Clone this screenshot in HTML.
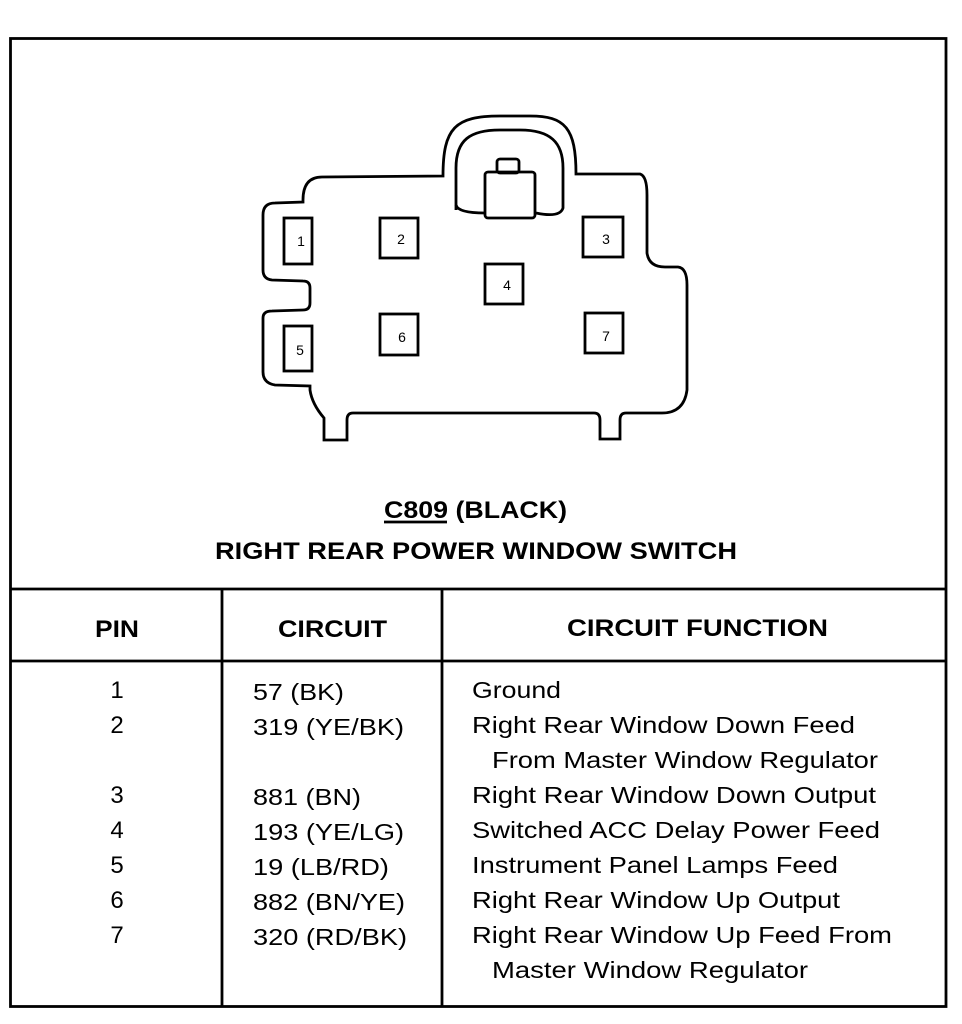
<!DOCTYPE html>
<html><head><meta charset="utf-8"><style>
html,body{margin:0;padding:0;background:#fff;}
svg{display:block;}
text{font-family:"Liberation Sans",Arial,sans-serif;fill:#000;}
.b{font-weight:bold;}
</style></head><body>
<svg width="962" height="1024" viewBox="0 0 962 1024" xmlns="http://www.w3.org/2000/svg">
<g fill="none" stroke="#000" stroke-width="2.8">
<rect x="10.5" y="38.5" width="935.5" height="968"/>
<line x1="10" y1="589" x2="946" y2="589"/>
<line x1="10" y1="661" x2="946" y2="661"/>
<line x1="222" y1="589" x2="222" y2="1007"/>
<line x1="442" y1="589" x2="442" y2="1007"/>
<path d="M303,200 Q303,177 322,177 L443,176 C443,128 455,116 500,116 L530,116 C565,116 576,128 576,174 L640,174 Q647,176 647,195 L647,253 Q649,267 665,267 L678,267 Q687,268 687,285 L687,390 Q684,413 662,413 L626,413 Q620,413 620,420 L620,439 L600,439 L600,420 Q600,413 594,413 L353,413 Q347,413 347,420 L347,440 L324,440 L324,418 Q312,404 310,390 L310,386 L275,385 Q263,383 263,372 L263,318 Q263,311 272,311 L303,310 Q310,310 310,303 L310,288 Q310,281 303,281 L272,280 Q263,279 263,270 L263,215 Q263,203 275,203 L303,202 Z"/>
<path d="M456,210 L456,168 C456,140 470,130 500,130 L520,130 C550,130 563,142 563,168 L563,208 Q560,218 536,213"/>
<path d="M456,205 Q458,213 485,213"/>
<rect x="485" y="172" width="50" height="46" rx="3"/>
<rect x="497" y="159" width="22" height="14" rx="3"/>
<rect x="284" y="218" width="28" height="46"/>
<rect x="380" y="218" width="38" height="40"/>
<rect x="583" y="217" width="40" height="40"/>
<rect x="485" y="264" width="38" height="40"/>
<rect x="284" y="326" width="28" height="45"/>
<rect x="380" y="314" width="38" height="41"/>
<rect x="585" y="313" width="38" height="40"/>
<line x1="384" y1="522" x2="447" y2="522"/>
</g>
<g font-size="14" text-anchor="middle">
<text x="301" y="246">1</text><text x="401" y="244">2</text><text x="606" y="244">3</text>
<text x="507" y="290">4</text><text x="300" y="355">5</text><text x="402" y="342">6</text><text x="606" y="341">7</text>
</g>
<text class="b" x="384" y="518" font-size="24" textLength="183" lengthAdjust="spacingAndGlyphs">C809 (BLACK)</text>
<text class="b" x="215" y="559" font-size="24" textLength="522" lengthAdjust="spacingAndGlyphs">RIGHT REAR POWER WINDOW SWITCH</text>
<text class="b" x="95" y="637" font-size="24" textLength="44" lengthAdjust="spacingAndGlyphs">PIN</text>
<text class="b" x="278" y="637" font-size="24" textLength="109" lengthAdjust="spacingAndGlyphs">CIRCUIT</text>
<text class="b" x="567" y="636" font-size="24" textLength="261" lengthAdjust="spacingAndGlyphs">CIRCUIT FUNCTION</text>
<g font-size="23">
<g text-anchor="middle" font-size="24">
<text x="117" y="698">1</text><text x="117" y="733">2</text><text x="117" y="803">3</text><text x="117" y="838">4</text><text x="117" y="873">5</text><text x="117" y="908">6</text><text x="117" y="943">7</text>
</g>
<text x="253" y="700" textLength="91" lengthAdjust="spacingAndGlyphs">57 (BK)</text>
<text x="253" y="735" textLength="151" lengthAdjust="spacingAndGlyphs">319 (YE/BK)</text>
<text x="253" y="805" textLength="108" lengthAdjust="spacingAndGlyphs">881 (BN)</text>
<text x="253" y="840" textLength="151" lengthAdjust="spacingAndGlyphs">193 (YE/LG)</text>
<text x="253" y="875" textLength="136" lengthAdjust="spacingAndGlyphs">19 (LB/RD)</text>
<text x="253" y="910" textLength="152" lengthAdjust="spacingAndGlyphs">882 (BN/YE)</text>
<text x="253" y="945" textLength="154" lengthAdjust="spacingAndGlyphs">320 (RD/BK)</text>
<text x="472" y="698" textLength="89" lengthAdjust="spacingAndGlyphs">Ground</text>
<text x="472" y="733" textLength="383" lengthAdjust="spacingAndGlyphs">Right Rear Window Down Feed</text>
<text x="492" y="768" textLength="386" lengthAdjust="spacingAndGlyphs">From Master Window Regulator</text>
<text x="472" y="803" textLength="404" lengthAdjust="spacingAndGlyphs">Right Rear Window Down Output</text>
<text x="472" y="838" textLength="408" lengthAdjust="spacingAndGlyphs">Switched ACC Delay Power Feed</text>
<text x="472" y="873" textLength="366" lengthAdjust="spacingAndGlyphs">Instrument Panel Lamps Feed</text>
<text x="472" y="908" textLength="368" lengthAdjust="spacingAndGlyphs">Right Rear Window Up Output</text>
<text x="472" y="943" textLength="420" lengthAdjust="spacingAndGlyphs">Right Rear Window Up Feed From</text>
<text x="492" y="978" textLength="316" lengthAdjust="spacingAndGlyphs">Master Window Regulator</text>
</g>
</svg>
</body></html>
